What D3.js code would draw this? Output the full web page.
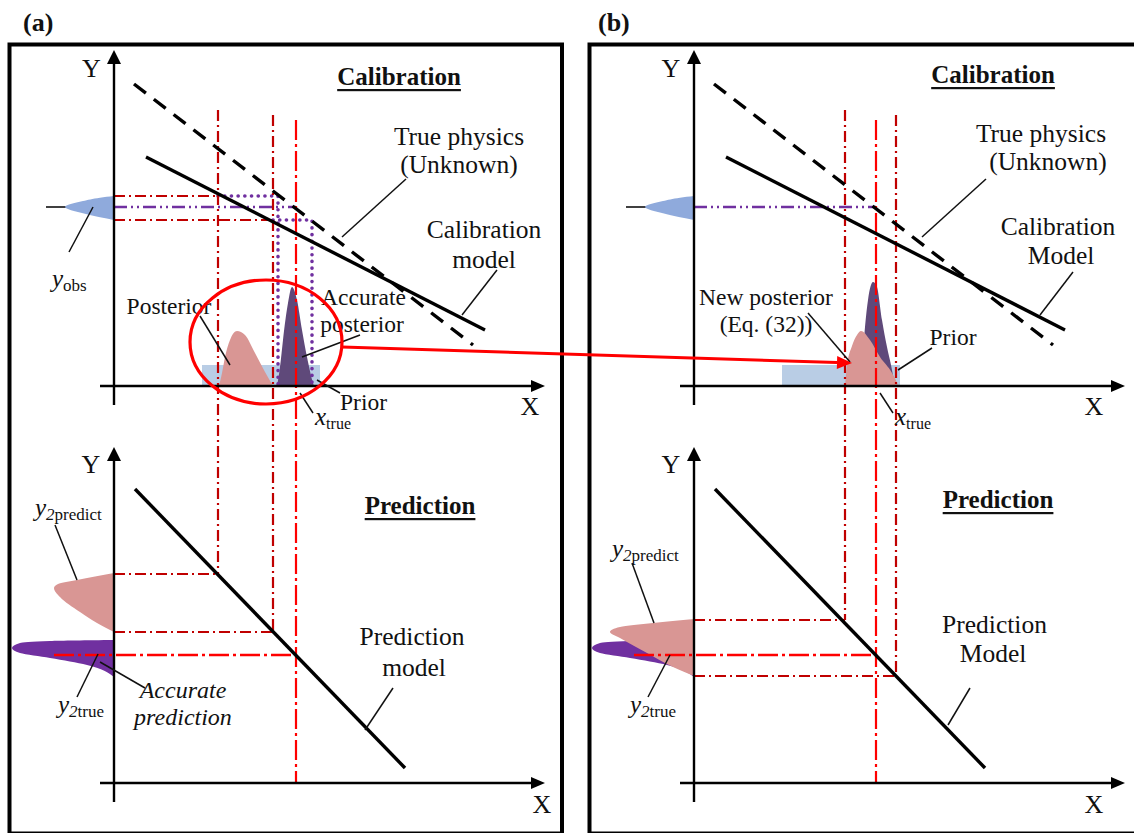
<!DOCTYPE html>
<html>
<head>
<meta charset="utf-8">
<script src="https://cdn.jsdelivr.net/npm/d3@7"></script>
<style>
  html, body { margin: 0; padding: 0; background: #fff; }
  svg { display: block; }
</style>
</head>
<body>
<svg id="chart" width="1134" height="833"></svg>
<script>
// ---------------------------------------------------------------------------
// Schematic values, in arbitrary chart units (origin = crossing of the axes).
// ---------------------------------------------------------------------------
const truePhysics      = [[20, 302], [359, 41]];   // dashed line
const calibrationModel = [[32, 229], [371, 56]];   // solid line, upper plot
const predictionModel  = [[21, 294], [291, 15]];   // solid line, lower plot

const yObs        = 179;                            // observed response
const yObsBand    = [166, 190];                     // its uncertainty band
const yObsDensity = [[0, 190], [-14, 188.3], [-31, 185], [-49, 179], [-31, 172.7], [-14, 168.7], [0, 166]];
const yObsStem    = -68;

const priorRange  = [88, 206];
const priorHeight = 21;

const posteriorA         = [[105, 0], [108, 13], [111, 29], [116, 46], [123, 55], [131, 51], [141, 33], [151, 14], [159, 0]];
const accuratePosteriorA = [[163, 0], [166, 19], [169, 46], [174, 83], [178, 99], [183, 86], [188, 56], [193, 29], [199, 3], [200, 0]];
const accuratePosteriorB = [[167, 0], [171, 59], [174, 86], [179, 104], [183, 99], [188, 66], [193, 39], [197, 21], [201, 0]];
const newPosteriorB      = [[151, 0], [153, 20], [158, 40], [163, 51], [167, 55], [176, 46], [186, 29], [198, 13], [203, 3], [204, 0]];

const posteriorBoundsA    = [104, 159];   // calibration-model inverse of the band
const accurateBoundsA     = [164, 198];   // true-physics inverse of the band
const newPosteriorBoundsB = [151, 202];
const xTrue               = 182;
const guideTops           = { lower: 276, upper: 271, truth: 266 };

const y2PredBoundsA = [151, 209];
const y2PredBoundsB = [107, 163];
const y2True        = 128;
const y2TrueStart   = -60;

const y2PredDensityA = [[0, 210], [-37, 203], [-56, 199], [-60, 195], [-54, 186], [-34, 171], [-17, 160], [0, 151]];
const y2PredDensityB = [[0, 164], [-41, 160], [-74, 156], [-84, 151], [-74, 145], [-47, 130], [-21, 116], [0, 107]];
const y2TrueDensity  = [[0, 143], [-64, 142], [-94, 140], [-102, 135], [-94, 130], [-64, 125], [-27, 118], [0, 106]];

const highlight = { cx: 152, cy: 44, rx: 76, ry: 62 };
const transfer  = { from: [228, 39], to: [158, 23] };

// ---------------------------------------------------------------------------
const SERIF = "'Liberation Serif', 'Times New Roman', Times, serif";
const INK = "#111";
const COL = {
  darkRed: "#C00000", red: "#FF0000", purple: "#7030A0",
  pink: "#D99694", darkPurple: "#5F497A", prior: "#B9CDE5", obs: "#8FAADC"
};
const DASH_DOT  = "11,4,2,4";
const LONG_DASH = "20,4,3,4";
const DASH_DOT2 = "13,4,2,4,2,4";
const PANEL_SHIFT = 580;

const svg = d3.select("#chart");

// shared scales; panel (b) is the same layout in a translated group
const x     = d3.scaleLinear().domain([0, 430]).range([114, 544]);
const yCal  = d3.scaleLinear().domain([0, 336]).range([386, 50]);
const yPred = d3.scaleLinear().domain([0, 336]).range([783, 447]);

const gA = svg.append("g");
const gB = svg.append("g").attr("transform", `translate(${PANEL_SHIFT},0)`);

// ---------------- helpers ----------------
function frame(g) {
  g.append("rect")
    .attr("x", x(-104.5)).attr("y", 44.5)
    .attr("width", 552.5).attr("height", 789)
    .attr("fill", "none").attr("stroke", "#000").attr("stroke-width", 4);
}

function seg(g, pts, yS, color, width, dash, cap) {
  g.append("path")
    .attr("d", d3.line().x(d => x(d[0])).y(d => yS(d[1]))(pts))
    .attr("fill", "none").attr("stroke", color)
    .attr("stroke-width", width)
    .attr("stroke-dasharray", dash || null)
    .attr("stroke-linecap", cap || "butt")
    .attr("stroke-linejoin", "round");
}

function vguide(g, xv, topCal, bottomPred, color, dash) {
  g.append("line")
    .attr("x1", x(xv)).attr("x2", x(xv))
    .attr("y1", yCal(topCal)).attr("y2", yPred(bottomPred))
    .attr("stroke", color).attr("stroke-width", 2.2)
    .attr("stroke-dasharray", dash);
}

function bump(g, pts, fill) {
  const area = d3.area()
    .x(d => x(d[0])).y0(yCal(0)).y1(d => yCal(d[1]))
    .curve(d3.curveMonotoneX);
  g.append("path").attr("d", area(pts)).attr("fill", fill);
}

function sideShape(g, pts, yS, fill) {
  const sorted = pts.slice().sort((a, b) => a[1] - b[1]);
  const line = d3.line().x(d => x(d[0])).y(d => yS(d[1])).curve(d3.curveMonotoneY);
  g.append("path").attr("d", line(sorted) + "Z").attr("fill", fill);
}

function axes(g, yS) {
  const x0 = x(0), y0 = yS(0);
  const xEnd = x(431), yEnd = yS(336);
  g.append("line").attr("x1", x(-14)).attr("x2", xEnd - 13).attr("y1", y0).attr("y2", y0)
    .attr("stroke", "#000").attr("stroke-width", 2.4);
  g.append("path").attr("d", `M${xEnd},${y0} L${xEnd - 14},${y0 - 6} L${xEnd - 14},${y0 + 6} Z`).attr("fill", "#000");
  g.append("line").attr("x1", x0).attr("x2", x0).attr("y1", yS(-19)).attr("y2", yEnd + 12)
    .attr("stroke", "#000").attr("stroke-width", 2.4);
  g.append("path").attr("d", `M${x0},${yEnd} L${x0 - 7},${yEnd + 14} L${x0 + 7},${yEnd + 14} Z`).attr("fill", "#000");
}

function label(g, xv, yv, yS, str, o = {}) {
  return g.append("text")
    .attr("x", x(xv)).attr("y", yS(yv))
    .attr("text-anchor", o.anchor || "middle")
    .attr("font-family", SERIF)
    .attr("font-size", o.size || 25)
    .attr("font-weight", o.bold ? "bold" : null)
    .attr("font-style", o.italic ? "italic" : null)
    .attr("fill", INK)
    .text(str);
}

function heading(g, xv, yv, yS, str) {
  const t = label(g, xv, yv, yS, str, { bold: true, size: 25 });
  const bb = t.node().getBBox();
  g.append("rect").attr("x", bb.x).attr("y", yS(yv) + 4)
    .attr("width", bb.width).attr("height", 2.2).attr("fill", INK);
}

// italic symbol followed by a smaller subscript made of [text, italic] parts
function symbol(g, xv, yv, yS, main, parts, subSize) {
  const t = g.append("text")
    .attr("x", x(xv)).attr("y", yS(yv))
    .attr("font-family", SERIF).attr("fill", INK);
  t.append("tspan").attr("font-style", "italic").attr("font-size", 25).text(main);
  parts.forEach((p, i) => {
    t.append("tspan")
      .attr("font-size", subSize)
      .attr("font-style", p[1] ? "italic" : "normal")
      .attr("dy", i === 0 ? 4 : 0)
      .text(p[0]);
  });
}

function leader(g, a, b, yS) {
  g.append("line")
    .attr("x1", x(a[0])).attr("y1", yS(a[1]))
    .attr("x2", x(b[0])).attr("y2", yS(b[1]))
    .attr("stroke", INK).attr("stroke-width", 1.5);
}

// ---------------- panel (a) ----------------
frame(gA);

// calibration plot: prior and posteriors
gA.append("rect")
  .attr("x", x(priorRange[0])).attr("y", yCal(priorHeight))
  .attr("width", x(priorRange[1]) - x(priorRange[0]))
  .attr("height", yCal(0) - yCal(priorHeight))
  .attr("fill", COL.prior);
bump(gA, posteriorA, COL.pink);
bump(gA, accuratePosteriorA, COL.darkPurple);

// observation and its spread
seg(gA, [[yObsStem, yObs], [0, yObs]], yCal, "#000", 1.6);
sideShape(gA, yObsDensity, yCal, COL.obs);

// prediction plot: predicted and true responses
sideShape(gA, y2PredDensityA, yPred, COL.pink);
sideShape(gA, y2TrueDensity, yPred, COL.purple);

// band projected through the calibration model
seg(gA, [[0, yObsBand[1]], [posteriorBoundsA[0], yObsBand[1]]], yCal, COL.darkRed, 2.2, DASH_DOT);
seg(gA, [[0, yObsBand[0]], [posteriorBoundsA[1], yObsBand[0]]], yCal, COL.darkRed, 2.2, DASH_DOT);
// band projected through the true physics
seg(gA, [[posteriorBoundsA[0], yObsBand[1]], [accurateBoundsA[0], yObsBand[1]], [accurateBoundsA[0], 0]], yCal, COL.purple, 3.6, "0.1,6.6", "round");
seg(gA, [[posteriorBoundsA[1], yObsBand[0]], [accurateBoundsA[1], yObsBand[0]], [accurateBoundsA[1], 0]], yCal, COL.purple, 3.6, "0.1,6.6", "round");
seg(gA, [[0, yObs], [xTrue, yObs]], yCal, COL.purple, 2.4, DASH_DOT2);

// guides running from the calibration plot into the prediction plot
vguide(gA, posteriorBoundsA[0], guideTops.lower, y2PredBoundsA[1], COL.darkRed, DASH_DOT);
vguide(gA, posteriorBoundsA[1], guideTops.upper, y2PredBoundsA[0], COL.darkRed, DASH_DOT);
vguide(gA, xTrue, guideTops.truth, 0, COL.red, LONG_DASH);
seg(gA, [[0, y2PredBoundsA[1]], [posteriorBoundsA[0], y2PredBoundsA[1]]], yPred, COL.darkRed, 2.2, DASH_DOT);
seg(gA, [[0, y2PredBoundsA[0]], [posteriorBoundsA[1], y2PredBoundsA[0]]], yPred, COL.darkRed, 2.2, DASH_DOT);
seg(gA, [[y2TrueStart, y2True], [xTrue, y2True]], yPred, COL.red, 2.4, LONG_DASH);

// model lines
seg(gA, truePhysics, yCal, "#000", 3.4, "15,10");
seg(gA, calibrationModel, yCal, "#000", 3.4);
seg(gA, predictionModel, yPred, "#000", 3.4);

axes(gA, yCal);
axes(gA, yPred);

// labels, calibration plot (a)
heading(gA, 285, 301, yCal, "Calibration");
label(gA, -22.5, 309, yCal, "Y", { size: 26 });
label(gA, 416, -29, yCal, "X", { size: 26 });
label(gA, 345, 241, yCal, "True physics", { size: 25.5 });
label(gA, 345, 213, yCal, "(Unknown)", { size: 25.5 });
label(gA, 370, 148, yCal, "Calibration", { size: 25.5 });
label(gA, 370, 118, yCal, "model", { size: 25.5 });
label(gA, 55, 72, yCal, "Posterior", { size: 23.5 });
label(gA, 249.5, 81, yCal, "Accurate", { size: 23.5 });
label(gA, 248, 54, yCal, "posterior", { size: 23.5 });
label(gA, 249.5, -24, yCal, "Prior", { size: 23.5 });
symbol(gA, 201, -39, yCal, "x", [["true", false]], 16);
symbol(gA, -62, 99, yCal, "y", [["obs", false]], 17);
leader(gA, [228, 149], [292, 207], yCal);
leader(gA, [348, 71], [383, 116], yCal);
leader(gA, [-45, 134], [-21, 179], yCal);
leader(gA, [86, 70], [116, 21], yCal);
leader(gA, [246, 51], [188, 29], yCal);
leader(gA, [226, -7], [203, 6], yCal);
leader(gA, [199, -27], [186, -7], yCal);

// labels, prediction plot (a)
heading(gA, 306, 269, yPred, "Prediction");
label(gA, -23, 310, yPred, "Y", { size: 26 });
label(gA, 428, -30, yPred, "X", { size: 26 });
label(gA, 298, 138, yPred, "Prediction", { size: 25.5 });
label(gA, 300, 107, yPred, "model", { size: 25.5 });
symbol(gA, -79, 267, yPred, "y", [["2", true], ["predict", false]], 17);
symbol(gA, -56, 70, yPred, "y", [["2", true], ["true", false]], 17);
label(gA, 69, 85, yPred, "Accurate", { size: 24, italic: true });
label(gA, 69, 58, yPred, "prediction", { size: 24, italic: true });
leader(gA, [251, 53], [279, 95], yPred);
leader(gA, [-59, 258], [-37, 203], yPred);
leader(gA, [-37, 86], [-16, 129], yPred);
leader(gA, [31, 95], [-14, 121], yPred);

// ---------------- panel (b) ----------------
frame(gB);

gB.append("rect")
  .attr("x", x(priorRange[0])).attr("y", yCal(priorHeight))
  .attr("width", x(priorRange[1]) - x(priorRange[0]))
  .attr("height", yCal(0) - yCal(priorHeight))
  .attr("fill", COL.prior);
bump(gB, accuratePosteriorB, COL.darkPurple);
bump(gB, newPosteriorB, COL.pink);

seg(gB, [[yObsStem, yObs], [0, yObs]], yCal, "#000", 1.6);
sideShape(gB, yObsDensity, yCal, COL.obs);

sideShape(gB, y2TrueDensity, yPred, COL.purple);
sideShape(gB, y2PredDensityB, yPred, COL.pink);

seg(gB, [[0, yObs], [xTrue, yObs]], yCal, COL.purple, 2.4, DASH_DOT2);

vguide(gB, newPosteriorBoundsB[0], guideTops.lower, y2PredBoundsB[1], COL.darkRed, DASH_DOT);
vguide(gB, newPosteriorBoundsB[1], guideTops.upper, y2PredBoundsB[0], COL.darkRed, DASH_DOT);
vguide(gB, xTrue, guideTops.truth, 0, COL.red, LONG_DASH);
seg(gB, [[0, y2PredBoundsB[1]], [newPosteriorBoundsB[0], y2PredBoundsB[1]]], yPred, COL.darkRed, 2.2, DASH_DOT);
seg(gB, [[0, y2PredBoundsB[0]], [newPosteriorBoundsB[1], y2PredBoundsB[0]]], yPred, COL.darkRed, 2.2, DASH_DOT);
seg(gB, [[y2TrueStart, y2True], [xTrue, y2True]], yPred, COL.red, 2.4, LONG_DASH);

seg(gB, truePhysics, yCal, "#000", 3.4, "15,10");
seg(gB, calibrationModel, yCal, "#000", 3.4);
seg(gB, predictionModel, yPred, "#000", 3.4);

axes(gB, yCal);
axes(gB, yPred);

heading(gB, 299, 303, yCal, "Calibration");
label(gB, -23, 309, yCal, "Y", { size: 26 });
label(gB, 400, -29, yCal, "X", { size: 26 });
label(gB, 347, 244, yCal, "True physics", { size: 25.5 });
label(gB, 354, 216, yCal, "(Unknown)", { size: 25.5 });
label(gB, 364, 151, yCal, "Calibration", { size: 25.5 });
label(gB, 367, 122, yCal, "Model", { size: 25.5 });
label(gB, 72, 81, yCal, "New posterior", { size: 23.5 });
label(gB, 72, 54, yCal, "(Eq. (32))", { size: 23.5 });
label(gB, 259, 41, yCal, "Prior", { size: 23.5 });
symbol(gB, 201, -39, yCal, "x", [["true", false]], 16);
leader(gB, [228, 149], [292, 207], yCal);
leader(gB, [346, 71], [379, 114], yCal);
leader(gB, [114, 73], [156, 24], yCal);
leader(gB, [238, 38], [204, 16], yCal);
leader(gB, [199, -27], [186, -7], yCal);

heading(gB, 304, 275, yPred, "Prediction");
label(gB, -23, 310, yPred, "Y", { size: 26 });
label(gB, 400, -30, yPred, "X", { size: 26 });
label(gB, 300.5, 150, yPred, "Prediction", { size: 25.5 });
label(gB, 299, 121, yPred, "Model", { size: 25.5 });
symbol(gB, -82, 226, yPred, "y", [["2", true], ["predict", false]], 17);
symbol(gB, -64, 70, yPred, "y", [["2", true], ["true", false]], 17);
leader(gB, [254, 58], [276, 95], yPred);
leader(gB, [-62, 220], [-40, 160], yPred);
leader(gB, [-46, 86], [-24, 128], yPred);

// ---------------- panel tags ----------------
svg.append("text").attr("x", 23).attr("y", 31)
  .attr("font-family", SERIF).attr("font-weight", "bold").attr("font-size", 26)
  .attr("fill", INK).text("(a)");
svg.append("text").attr("x", 598).attr("y", 31)
  .attr("font-family", SERIF).attr("font-weight", "bold").attr("font-size", 26)
  .attr("fill", INK).text("(b)");

// ---------------- highlight of the calibrated posterior and its transfer to (b) ----------------
gA.append("ellipse")
  .attr("cx", x(highlight.cx)).attr("cy", yCal(highlight.cy))
  .attr("rx", x(highlight.rx) - x(0)).attr("ry", yCal(0) - yCal(highlight.ry))
  .attr("fill", "none").attr("stroke", COL.red).attr("stroke-width", 3.2);

{
  const x1 = x(transfer.from[0]), y1 = yCal(transfer.from[1]);
  const x2 = PANEL_SHIFT + x(transfer.to[0]), y2 = yCal(transfer.to[1]);
  const ang = Math.atan2(y2 - y1, x2 - x1);
  const len = 15, half = 6.5;
  const bx = x2 - len * Math.cos(ang), by = y2 - len * Math.sin(ang);
  svg.append("line").attr("x1", x1).attr("y1", y1).attr("x2", bx).attr("y2", by)
    .attr("stroke", COL.red).attr("stroke-width", 3);
  const px = -Math.sin(ang) * half, py = Math.cos(ang) * half;
  svg.append("path")
    .attr("d", `M${x2},${y2} L${bx + px},${by + py} L${bx - px},${by - py} Z`)
    .attr("fill", COL.red);
}
</script>
</body>
</html>
